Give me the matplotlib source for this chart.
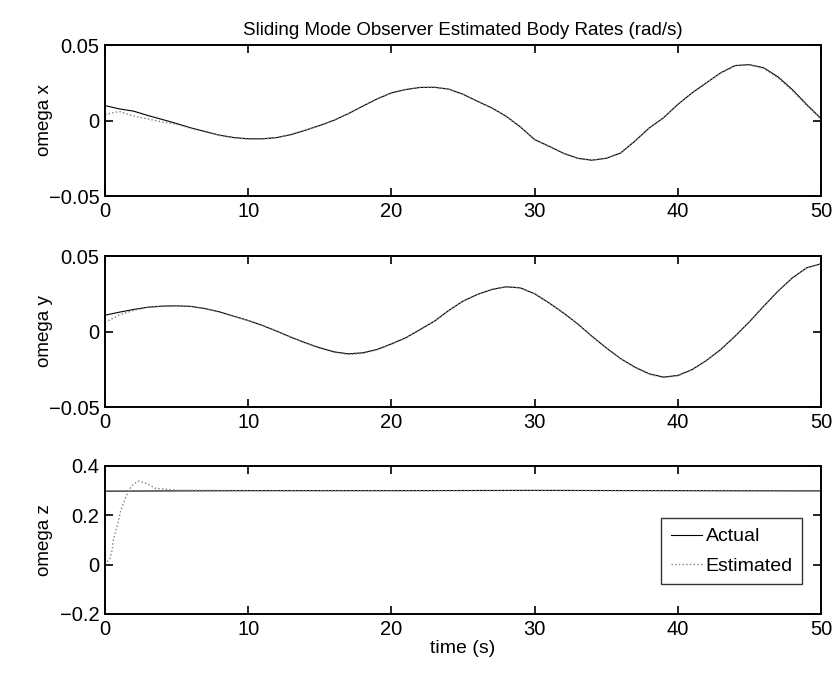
import matplotlib
matplotlib.use('Agg')
import matplotlib.pyplot as plt
import numpy as np

plt.rcParams['font.family'] = ['Liberation Sans', 'DejaVu Sans']

t = list(range(0, 51))

wx_actual = [0.0099, 0.0077, 0.0062, 0.0033, 0.0007, -0.0020, -0.0049, -0.0073, -0.0097, -0.0113,
             -0.0121, -0.0121, -0.0113, -0.0093, -0.0064, -0.0033, 0.0002, 0.0046, 0.0095, 0.0143,
             0.0183, 0.0205, 0.0219, 0.0220, 0.0208, 0.0174, 0.0128, 0.0084, 0.0029, -0.0042,
             -0.0126, -0.0170, -0.0216, -0.0250, -0.0263, -0.0250, -0.0216, -0.0137, -0.0050, 0.0018,
             0.0106, 0.0183, 0.0250, 0.0316, 0.0364, 0.0370, 0.0349, 0.0289, 0.0205, 0.0106, 0.0013]
wx_est = [0.0040, 0.0060, 0.0030, 0.0010, -0.0010, -0.0025, -0.0052, -0.0075, -0.0099, -0.0115,
          -0.0123, -0.0122, -0.0113, -0.0093, -0.0064, -0.0034, 0.0002, 0.0046, 0.0095, 0.0143,
          0.0183, 0.0206, 0.0219, 0.0221, 0.0208, 0.0174, 0.0127, 0.0085, 0.0028, -0.0043,
          -0.0127, -0.0172, -0.0217, -0.0251, -0.0264, -0.0249, -0.0214, -0.0135, -0.0049, 0.0019,
          0.0107, 0.0184, 0.0251, 0.0315, 0.0362, 0.0368, 0.0345, 0.0282, 0.0198, 0.0100, 0.0010]

wy_actual = [0.0108, 0.0128, 0.0146, 0.0161, 0.0168, 0.0170, 0.0166, 0.0152, 0.0130, 0.0101,
             0.0073, 0.0040, 0.0002, -0.0038, -0.0075, -0.0108, -0.0135, -0.0148, -0.0141, -0.0119,
             -0.0082, -0.0042, 0.0013, 0.0068, 0.0139, 0.0201, 0.0245, 0.0278, 0.0296, 0.0289,
             0.0250, 0.0190, 0.0124, 0.0051, -0.0031, -0.0108, -0.0179, -0.0236, -0.0280, -0.0302,
             -0.0291, -0.0252, -0.0192, -0.0119, -0.0031, 0.0064, 0.0168, 0.0267, 0.0355, 0.0422, 0.0448]
wy_est = [0.0060, 0.0110, 0.0140, 0.0160, 0.0168, 0.0171, 0.0166, 0.0150, 0.0128, 0.0100,
          0.0072, 0.0040, 0.0002, -0.0039, -0.0077, -0.0110, -0.0138, -0.0152, -0.0145, -0.0122,
          -0.0084, -0.0043, 0.0012, 0.0068, 0.0139, 0.0202, 0.0246, 0.0279, 0.0297, 0.0290,
          0.0250, 0.0190, 0.0124, 0.0051, -0.0031, -0.0108, -0.0180, -0.0238, -0.0283, -0.0305,
          -0.0294, -0.0254, -0.0192, -0.0119, -0.0031, 0.0064, 0.0168, 0.0267, 0.0355, 0.0422, 0.0448]

wz_t_actual = [0, 10, 20, 30, 40, 50]
wz_actual = [0.298, 0.300, 0.300, 0.301, 0.300, 0.299]
wz_t_est = [0.0, 0.35, 0.51, 0.58, 0.77, 0.93, 1.05, 1.28, 1.47, 1.86, 2.33, 2.98, 3.5, 5, 10, 20, 30, 40, 50]
wz_est = [0.0, 0.026, 0.062, 0.10, 0.14, 0.174, 0.21, 0.246, 0.278, 0.32, 0.339, 0.327, 0.31,
          0.302, 0.300, 0.300, 0.301, 0.300, 0.299]

fig = plt.figure(figsize=(8.38, 6.78), dpi=100)
ax1 = fig.add_axes([0.1253, 0.7109, 0.8544, 0.2227])
ax2 = fig.add_axes([0.1253, 0.3997, 0.8544, 0.2227])
ax3 = fig.add_axes([0.1253, 0.0944, 0.8544, 0.2183])

ax1.plot(t, wx_actual, color='black', lw=0.8)
ax1.plot(t, wx_est, color='gray', lw=1.0, ls=':')
ax2.plot(t, wy_actual, color='black', lw=0.8)
ax2.plot(t, wy_est, color='gray', lw=1.0, ls=':')
ax3.plot(wz_t_actual, wz_actual, color='black', lw=0.8, label='Actual')
ax3.plot(wz_t_est, wz_est, color='gray', lw=1.0, ls=':', label='Estimated')

ax1.set_ylim(-0.05, 0.05)
ax1.set_yticks([-0.05, 0, 0.05])
ax1.set_yticklabels(['\u22120.05', '0', '0.05'])
ax2.set_ylim(-0.05, 0.05)
ax2.set_yticks([-0.05, 0, 0.05])
ax2.set_yticklabels(['\u22120.05', '0', '0.05'])
ax3.set_ylim(-0.2, 0.4)
ax3.set_yticks([-0.2, 0, 0.2, 0.4])
ax3.set_yticklabels(['\u22120.2', '0', '0.2', '0.4'])

for ax in (ax1, ax2, ax3):
    ax.set_xlim(0, 50)
    ax.set_xticks([0, 10, 20, 30, 40, 50])
    ax.tick_params(direction='in', top=True, right=True, labelsize=14.5, length=6, width=1.2, pad=4)
    for s in ax.spines.values():
        s.set_linewidth(1.4)

ax1.set_ylabel('omega x', fontsize=13.5)
ax2.set_ylabel('omega y', fontsize=13.5)
ax3.set_ylabel('omega z', fontsize=13.5)
for ax in (ax1, ax2, ax3):
    ax.yaxis.set_label_coords(-0.072, 0.5)
ax3.set_xlabel('time (s)', fontsize=14, labelpad=1)
ax1.set_title('Sliding Mode Observer Estimated Body Rates (rad/s)', fontsize=13.5, pad=7)

leg = ax3.legend(loc='lower right', bbox_to_anchor=(0.974, 0.20), fontsize=14, frameon=True,
                 fancybox=False, edgecolor='black', handlelength=1.6, handletextpad=0.2,
                 borderpad=0.5, labelspacing=0.6, borderaxespad=0)
leg.get_frame().set_linewidth(1.0)

fig.savefig('out.png', dpi=100)
